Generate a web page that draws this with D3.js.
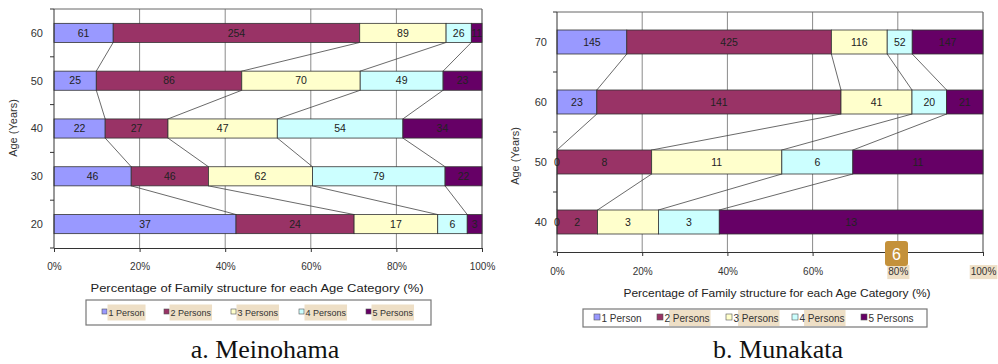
<!DOCTYPE html>
<html><head><meta charset="utf-8">
<script src="https://cdn.jsdelivr.net/npm/d3@7"></script>
<style>
body{margin:0;background:#fff;}
svg{display:block;font-family:"Liberation Sans",Arial,sans-serif;}
</style></head>
<body><svg id="c" width="998" height="364"></svg>
<script>
// ---- data ----
const seriesNames = ["1 Person","2 Persons","3 Persons","4 Persons","5 Persons"];
const seriesColors = ["#9999FF","#993366","#FFFFCC","#CCFFFF","#660066"];
const xTickLabels = ["0%","20%","40%","60%","80%","100%"];
const xTickValues = [0,0.2,0.4,0.6,0.8,1];

const meinohamaAges = ["60","50","40","30","20"];
const meinohama1 = [61,25,22,46,37];
const meinohama2 = [254,86,27,46,24];
const meinohama3 = [89,70,47,62,17];
const meinohama4 = [26,49,54,79,6];
const meinohama5 = [11,23,34,22,3];

const munakataAges = ["70","60","50","40"];
const munakata1 = [145,23,0,0];
const munakata2 = [425,141,8,2];
const munakata3 = [116,41,11,3];
const munakata4 = [52,20,6,3];
const munakata5 = [147,21,11,13];

const axisTitle = "Percentage of Family structure for each Age Category (%)";
const yTitle = "Age (Years)";

const svg = d3.select("#c");
const HL = "#EEDFC6";

function drawChart(cfg){
  const {ages, series, x0, x1, y0, y1} = cfg;
  const g = svg.append("g");
  const x = d3.scaleLinear().domain([0,1]).range([x0,x1]);
  const y = d3.scaleBand().domain(ages).range([y0,y1]).paddingInner(0.6).paddingOuter(0.3);
  const rows = ages.map((a,i)=>{
    const vals = series.map(s=>s[i]);
    const tot = d3.sum(vals);
    let c = 0;
    const segs = vals.map((v,k)=>{const s={k,v,a,start:c/tot,end:(c+v)/tot}; c+=v; return s;});
    return {a,segs};
  });
  // gridlines
  g.selectAll(".grid").data(xTickValues.slice(1)).join("line")
    .attr("x1",d=>x(d)).attr("x2",d=>x(d)).attr("y1",y0).attr("y2",y1)
    .attr("stroke",d=>d===1?"#444":"#8a8a8a").attr("stroke-width",1);
  g.append("line").attr("x1",x0).attr("x2",x1).attr("y1",y0).attr("y2",y0).attr("stroke","#666");
  // series lines
  for(let i=0;i<rows.length-1;i++){
    for(let k=0;k<series.length-1;k++){
      g.append("line")
        .attr("x1",x(rows[i].segs[k].end)).attr("y1",y(rows[i].a)+y.bandwidth())
        .attr("x2",x(rows[i+1].segs[k].end)).attr("y2",y(rows[i+1].a))
        .attr("stroke","#444").attr("stroke-width",0.8);
    }
  }
  // bars
  rows.forEach(r=>{
    g.selectAll(null).data(r.segs).join("rect")
      .attr("x",d=>x(d.start)).attr("width",d=>x(d.end)-x(d.start))
      .attr("y",y(r.a)).attr("height",y.bandwidth())
      .attr("fill",d=>seriesColors[d.k]).attr("stroke","#333").attr("stroke-width",0.8);
    g.selectAll(null).data(r.segs).join("text")
      .attr("x",d=>(x(d.start)+x(d.end))/2).attr("y",y(r.a)+y.bandwidth()/2)
      .attr("dy","0.36em").attr("text-anchor","middle")
      .attr("font-size",cfg.labelSize).attr("fill","#222")
      .text(d=>d.v);
  });
  // axes
  const xa = g.append("g").attr("transform",`translate(0,${y1})`)
    .call(d3.axisBottom(x).tickValues(xTickValues).tickFormat((d,i)=>xTickLabels[i]).tickSize(4).tickPadding(cfg.xPad));
  xa.select(".domain").attr("stroke","#333");
  xa.selectAll("line").attr("stroke","#333");
  xa.selectAll("text").attr("font-size",cfg.tickSize).attr("fill","#333").attr("font-family","Liberation Sans, Arial");
  // y axis
  g.append("line").attr("x1",x0).attr("x2",x0).attr("y1",y0).attr("y2",y1).attr("stroke","#333");
  const bounds = d3.range(ages.length+1).map(i=>y0+i*y.step());
  g.selectAll(null).data(bounds).join("line")
    .attr("x1",x0-4).attr("x2",x0).attr("y1",d=>d).attr("y2",d=>d).attr("stroke","#333");
  g.selectAll(null).data(ages).join("text")
    .attr("x",x0-cfg.yLabGap).attr("y",d=>y(d)+y.bandwidth()/2).attr("dy","0.36em")
    .attr("text-anchor","end").attr("font-size",cfg.tickSize+1).attr("fill","#333").text(d=>d);
  g.append("text").attr("transform",`translate(${cfg.yTitleX},${cfg.yTitleY}) rotate(-90)`)
    .attr("text-anchor","middle").attr("font-size",11).attr("fill","#333").text(yTitle);
  g.append("text").attr("x",cfg.titleX).attr("y",cfg.titleY).attr("text-anchor","middle")
    .attr("font-size",11).attr("fill","#222").attr("textLength",cfg.titleLen).attr("lengthAdjust","spacingAndGlyphs").text(axisTitle);
  return {g,x,xa};
}

function drawLegend(cfg){
  const g = svg.append("g");
  g.append("rect").attr("x",cfg.x0).attr("y",cfg.y0).attr("width",cfg.x1-cfg.x0).attr("height",cfg.y1-cfg.y0)
    .attr("fill","#fff").attr("stroke","#777").attr("stroke-width",1.2);
  const cy = (cfg.y0+cfg.y1)/2;
  seriesNames.forEach((n,i)=>{
    const sx = cfg.itemX[i];
    g.append("rect").attr("x",sx).attr("y",cy-cfg.sq/2-1).attr("width",cfg.sq).attr("height",cfg.sq)
      .attr("fill",seriesColors[i]).attr("stroke","#555").attr("stroke-width",0.6);
    const tx = sx+cfg.sq+1.5;
    const t = g.append("text").attr("x",tx).attr("y",cy).attr("dy","0.36em").attr("font-size",cfg.fs).attr("fill","#333").text(n);
    const w = t.node().getComputedTextLength();
    if(cfg.hlAll){
      g.insert("rect","text").attr("x",tx-1).attr("y",cy-8).attr("width",w+2).attr("height",16).attr("fill",HL);
    } else if(cfg.hlWord[i]){
      const pre = g.append("text").attr("font-size",cfg.fs).text(n.split(" ")[0]+" ");
      const pw = pre.node().getComputedTextLength(); pre.remove();
      g.insert("rect","text").attr("x",tx+pw-1).attr("y",cy-8).attr("width",w-pw+2).attr("height",16).attr("fill",HL);
    }
  });
}

const left = drawChart({ages:meinohamaAges,
  series:[meinohama1,meinohama2,meinohama3,meinohama4,meinohama5],
  x0:54,x1:482,y0:9,y1:248,labelSize:10.5,tickSize:10,xPad:11,yLabGap:11,
  yTitleX:17,yTitleY:128,titleX:257,titleY:292,titleLen:333});
const right = drawChart({ages:munakataAges,
  series:[munakata1,munakata2,munakata3,munakata4,munakata5],
  x0:557,x1:983,y0:12,y1:252,labelSize:10.5,tickSize:10,xPad:12,yLabGap:10,
  yTitleX:519,yTitleY:156,titleX:777,titleY:297,titleLen:307});

// highlights on right tick labels 80%,100%
right.xa.selectAll(".tick").each(function(d){
  if(d>=0.8){
    const tk=d3.select(this); const t=tk.select("text");
    const bb=t.node().getBBox();
    tk.insert("rect","text").attr("x",bb.x-1).attr("y",bb.y-1).attr("width",bb.width+2).attr("height",bb.height+3).attr("fill",HL);
  }
});

drawLegend({x0:86,x1:431,y0:300,y1:325,sq:5,fs:9,itemX:[102,164,231,299,366],hlAll:true});
drawLegend({x0:583,x1:927,y0:309,y1:327,sq:6,fs:10,itemX:[594,657,726,792,861],hlAll:false,hlWord:[false,true,true,true,false]});

// captions
svg.append("text").attr("x",265).attr("y",358).attr("text-anchor","middle")
  .attr("font-family","Liberation Serif, Times New Roman, serif").attr("font-size",26).attr("fill","#111").text("a. Meinohama");
svg.append("text").attr("x",778).attr("y",358).attr("text-anchor","middle")
  .attr("font-family","Liberation Serif, Times New Roman, serif").attr("font-size",26).attr("fill","#111").text("b. Munakata");

// page-note badge
svg.append("rect").attr("x",885).attr("y",241).attr("width",23).attr("height",25).attr("rx",3).attr("fill","#C4913A");
svg.append("text").attr("x",896.5).attr("y",254).attr("dy","0.36em").attr("text-anchor","middle")
  .attr("font-size",16).attr("fill","#fff").text("6");
</script></body></html>
